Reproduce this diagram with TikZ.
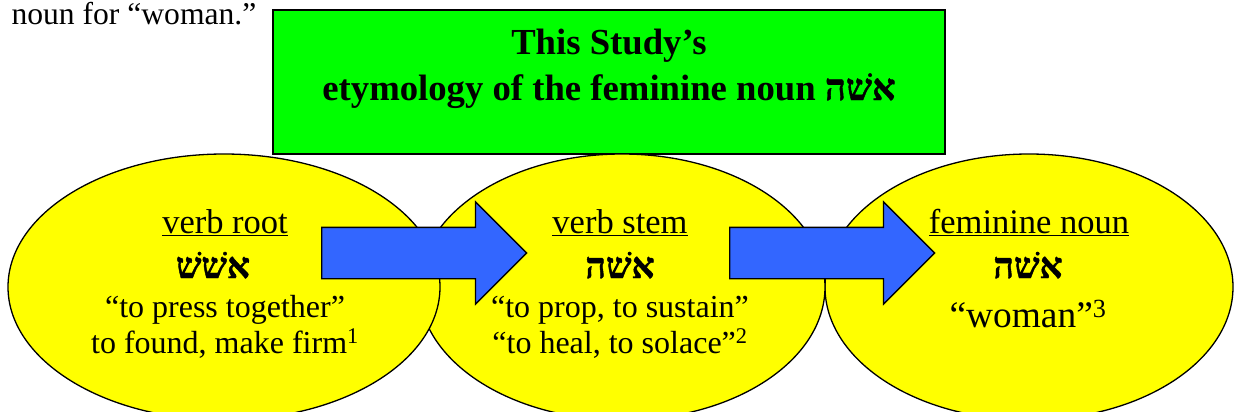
\documentclass[tikz,border=0pt]{standalone}
\usepackage{fontspec}
\setmainfont{Liberation Serif}
\newfontfamily\hebfont[Script=Hebrew, BoldFeatures={FakeBold=1.2}]{Liberation Serif}
\usetikzlibrary{shapes.geometric,shapes.arrows}
\TeXXeTstate=1
\definecolor{boxgreen}{RGB}{0,255,0}
\definecolor{ovalyellow}{RGB}{255,255,0}
\definecolor{arrowblue}{RGB}{51,102,255}

\begin{document}
\begin{tikzpicture}[x=1pt, y=-1pt,
    oval/.style={ellipse, draw=black, line width=1.3pt, fill=ovalyellow, inner sep=0pt, minimum height=266pt},
    flow/.style={single arrow, draw=black, line width=1.3pt, fill=arrowblue, inner xsep=0pt, inner ysep=25pt,
        minimum height=205pt, single arrow head extend=25.5pt, anchor=tail},
    head/.style={anchor=base, font=\fontsize{34.5}{40}\selectfont},
    heb/.style={anchor=base, font=\fontsize{36}{40}\selectfont\hebfont\bfseries},
    gloss/.style={anchor=base, font=\fontsize{32}{38}\selectfont}]
    \useasboundingbox (0,0) rectangle (1235,412);

    \node[anchor=base west, font=\fontsize{31.6}{38}\selectfont] (intro) at (8,25) {noun for “woman.”};

    % title box
    \node[draw=black, line width=1.8pt, fill=boxgreen, minimum width=672pt, minimum height=144pt] (title) at (609,82) {};
    \node[anchor=base, font=\fontsize{36.7}{42}\selectfont\bfseries] (titleA) at (609,55) {This Study’s};
    \node[anchor=base, font=\fontsize{36.7}{42}\selectfont\bfseries] (titleB) at (609,100)
        {etymology of the feminine noun {\hebfont\bfseries\beginR אשׁה\endR}};

    % the three ovals, right one at the back
    \node[oval, minimum width=408pt] (noun) at (1029,287) {};
    \node[oval, minimum width=406pt] (stem) at (622,287) {};
    \node[oval, minimum width=432pt] (root) at (224,287) {};

    \node[flow] (rootstem) at (321,253) {};
    \node[flow] (stemnoun) at (729,253) {};

    \node[head] (rootH) at (225,233) {\underline{verb root}};
    \node[heb] (rootW) at (213,278) {\beginR אשׁשׁ\endR};
    \node[gloss] (rootG) at (225,317) {“to press together”};
    \node[gloss] (rootF) at (225,353) {to found, make firm\textsuperscript{1}};

    \node[head] (stemH) at (620,233) {\underline{verb stem}};
    \node[heb] (stemW) at (620,278) {\beginR אשׁה\endR};
    \node[gloss] (stemG) at (620,317) {“to prop, to sustain”};
    \node[gloss] (stemF) at (620,353) {“to heal, to solace”\textsuperscript{2}};

    \node[head] (nounH) at (1029,233) {\underline{feminine noun}};
    \node[heb] (nounW) at (1028,278) {\beginR אשׁה\endR};
    \node[anchor=base, font=\fontsize{37.4}{44}\selectfont] (nounG) at (1028,327) {“woman”\textsuperscript{3}};
\end{tikzpicture}
\end{document}
